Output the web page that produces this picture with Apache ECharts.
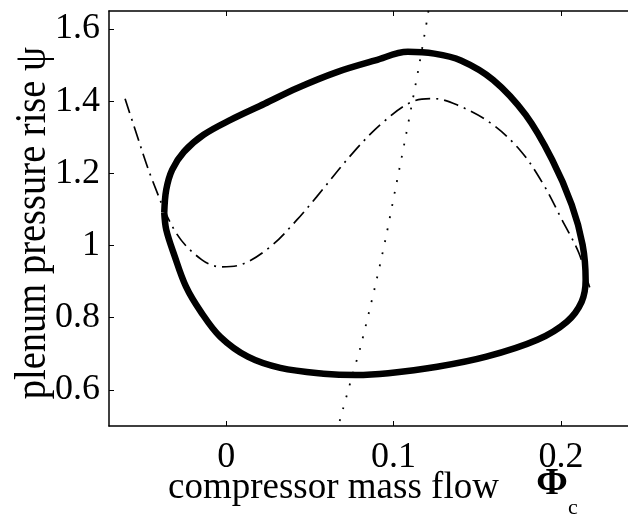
<!DOCTYPE html>
<html>
<head>
<meta charset="utf-8">
<script src="https://cdn.jsdelivr.net/npm/echarts@6/dist/echarts.min.js"></script>
<style>
  html, body { margin: 0; padding: 0; background: #fff; }
  #chart { width: 628px; height: 515px; }
</style>
</head>
<body>
<div id="chart"></div>
<script>
  // limit cycle (surge loop), traced clockwise from the left edge
  var cycleFlow = [-0.037, -0.0358, -0.0323, -0.0252, -0.0135, 0.0029, 0.0229, 0.0422, 0.0657, 0.0891, 0.1085, 0.1243, 0.1402, 0.1595, 0.1789, 0.1947, 0.2064, 0.2129, 0.2147, 0.2123, 0.2035, 0.1859, 0.1554, 0.1261, 0.0968, 0.0774, 0.0581, 0.0323, 0.0129, -0.0035, -0.0152, -0.024, -0.0311, -0.0358, -0.037];
  var cyclePressure = [1.091, 1.155, 1.21, 1.26, 1.307, 1.349, 1.393, 1.436, 1.48, 1.513, 1.537, 1.532, 1.513, 1.459, 1.362, 1.238, 1.113, 1.002, 0.905, 0.844, 0.789, 0.739, 0.692, 0.664, 0.646, 0.641, 0.645, 0.661, 0.692, 0.747, 0.817, 0.886, 0.975, 1.044, 1.091];

  // compressor characteristic (dash-dot)
  var charFlow = [-0.0604, -0.0557, -0.044, -0.0299, -0.0147, -0.0029, 0.0088, 0.0264, 0.0422, 0.054, 0.0757, 0.0933, 0.1108, 0.1243, 0.1378, 0.1578, 0.1754, 0.1889, 0.2006, 0.2106, 0.217, 0.219];
  var charPressure = [1.407, 1.34, 1.18, 1.035, 0.961, 0.941, 0.947, 0.997, 1.071, 1.135, 1.257, 1.34, 1.398, 1.407, 1.39, 1.34, 1.265, 1.174, 1.071, 0.98, 0.886, 0.872];

  // throttle line (dotted)
  var throttleFlow = [0.0678, 0.076, 0.0801, 0.0889, 0.0953, 0.1012, 0.1071, 0.1153, 0.1205, 0.121];
  var throttlePressure = [0.514, 0.651, 0.717, 0.886, 1.021, 1.16, 1.299, 1.501, 1.64, 1.66];

  var xTicks = [0, 0.1, 0.2];
  var yTicks = [0.6, 0.8, 1, 1.2, 1.4, 1.6];

  function pairs(xs, ys) {
    var out = [];
    for (var i = 0; i < xs.length; i++) out.push([xs[i], ys[i]]);
    return out;
  }

  var serif = '"Liberation Serif", "Times New Roman", serif';
  var chart = echarts.init(document.getElementById('chart'));

  function xAxisDef(pos, showLabels) {
    return {
      type: 'value', position: pos, min: -0.07, max: 0.24,
      axisLine: { show: true, onZero: false, lineStyle: { color: '#000', width: 1.5 } },
      axisTick: { show: true, inside: true, length: 5, customValues: xTicks, lineStyle: { color: '#000', width: 1 } },
      axisLabel: { show: showLabels, customValues: xTicks, margin: 14, color: '#000', fontSize: 36, fontFamily: serif },
      splitLine: { show: false }
    };
  }

  var option = {
    backgroundColor: '#fff',
    animation: false,
    grid: { left: 109, top: 11, right: -9, bottom: 89 },
    xAxis: [xAxisDef('bottom', true), xAxisDef('top', false)],
    yAxis: [{
      type: 'value', position: 'left', min: 0.5, max: 1.65,
      axisLine: { show: true, onZero: false, lineStyle: { color: '#000', width: 1.5 } },
      axisTick: { show: true, inside: true, length: 5, customValues: yTicks, lineStyle: { color: '#000', width: 1 } },
      axisLabel: { customValues: yTicks, margin: 9, color: '#000', fontSize: 36, fontFamily: serif },
      splitLine: { show: false }
    }],
    series: [
      {
        type: 'line', data: pairs(throttleFlow, throttlePressure), smooth: 0.3,
        symbol: 'none', clip: true,
        lineStyle: { color: '#000', width: 1.8, type: [1.8, 10.5], cap: 'butt' }
      },
      {
        type: 'line', data: pairs(charFlow, charPressure), smooth: 0.35,
        symbol: 'none', clip: true,
        lineStyle: { color: '#000', width: 1.7, type: [15, 6, 2, 6] }
      },
      {
        type: 'line', data: pairs(cycleFlow, cyclePressure), smooth: 0.35,
        symbol: 'none', clip: true,
        lineStyle: { color: '#000', width: 6.5, join: 'round' }
      }
    ],
    graphic: [
      {
        type: 'text', x: 168, y: 488,
        style: { text: 'compressor mass flow', font: '37px ' + serif, fill: '#000', align: 'left', verticalAlign: 'middle' }
      },
      {
        type: 'text', x: 552, y: 484,
        style: { text: 'Φ', font: 'bold 38px ' + serif, fill: '#000', align: 'center', verticalAlign: 'middle' }
      },
      {
        type: 'text', x: 573, y: 508,
        style: { text: 'c', font: '22px ' + serif, fill: '#000', align: 'center', verticalAlign: 'middle' }
      },
      {
        type: 'text', x: 33, y: 223, rotation: Math.PI / 2, scaleY: 1.15,
        style: { text: 'plenum pressure rise ψ', font: '38.5px ' + serif, fill: '#000', align: 'center', verticalAlign: 'middle' }
      }
    ]
  };
  chart.setOption(option);
</script>
</body>
</html>
